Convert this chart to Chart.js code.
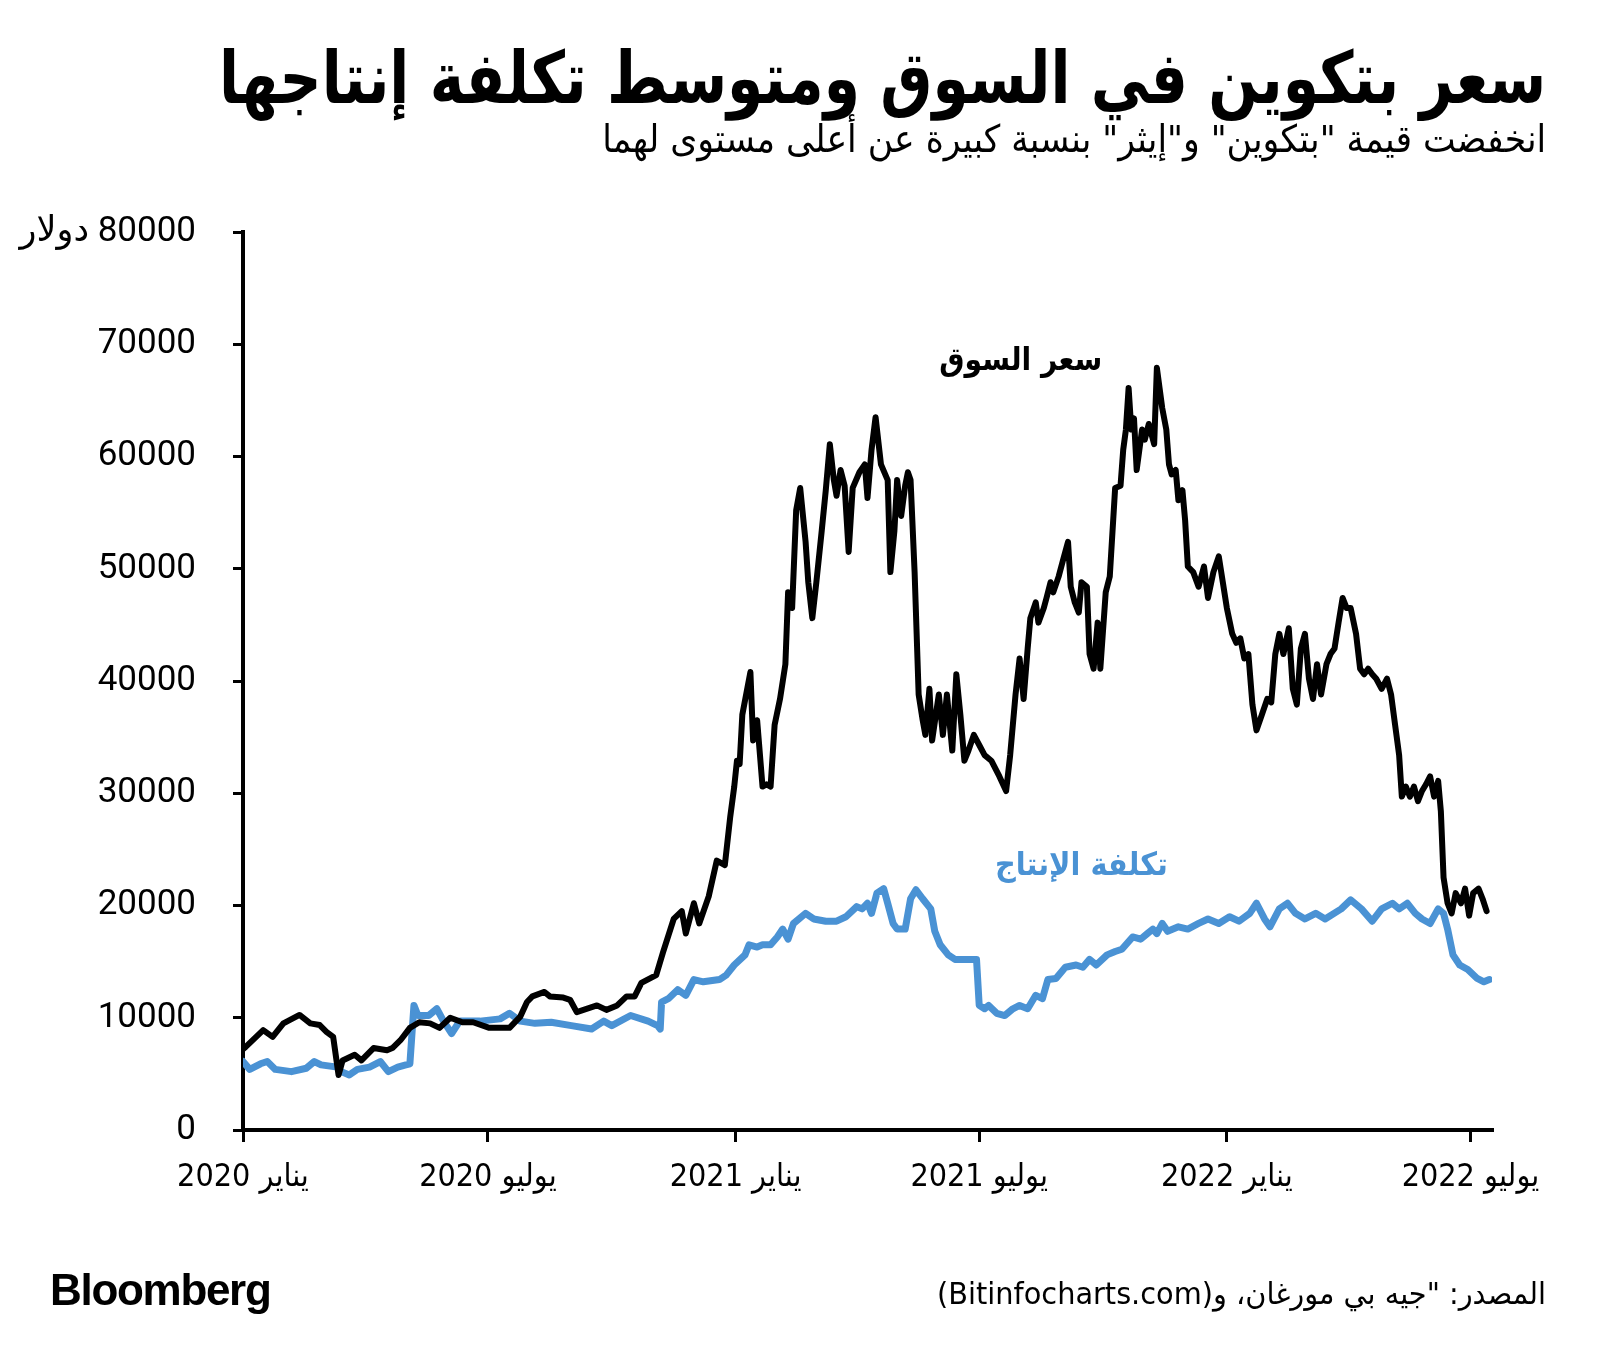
<!DOCTYPE html>
<html lang="ar">
<head>
<meta charset="utf-8">
<script src="https://cdn.jsdelivr.net/npm/chart.js@4.4.1/dist/chart.umd.min.js"></script>
<style>
  html, body { margin: 0; padding: 0; background: #fff; }
  #wrap { position: relative; width: 1600px; height: 1371px; overflow: hidden; }
  #chart { position: absolute; left: 0; top: 0; direction: ltr; }
  .txt { position: absolute; white-space: nowrap; direction: rtl; line-height: 1; transform-origin: right top; }
  #title { right: 54px; top: 36px; font: bold 72px "DejaVu Sans Condensed", "DejaVu Sans"; color: #000; }
  #subtitle { right: 54px; top: 117px; font: 38px "DejaVu Sans Condensed", "DejaVu Sans"; color: #000; }
  #source { right: 54px; top: 1276px; font: 30px "DejaVu Sans Condensed", "DejaVu Sans"; color: #000; }
  #logo { position: absolute; left: 50px; top: 1268px; font: bold 44px "Liberation Sans", Arial; letter-spacing: -1.3px; line-height: 1; color: #000; }
  #lblPrice { right: 498px; top: 340px; font: bold 32px "DejaVu Sans Condensed", "DejaVu Sans"; color: #000; }
  #lblCost { right: 432px; top: 845px; font: bold 32px "DejaVu Sans Condensed", "DejaVu Sans"; color: #4a92d4; }
</style>
</head>
<body>
<div id="wrap">
  <canvas id="chart" width="1600" height="1371"></canvas>
  <div class="txt" id="title" data-w="1327">سعر بتكوين في السوق ومتوسط تكلفة إنتاجها</div>
  <div class="txt" id="subtitle" data-w="944">انخفضت قيمة "بتكوين" و"إيثر" بنسبة كبيرة عن أعلى مستوى لهما</div>
  <div class="txt" id="lblPrice" data-w="163">سعر السوق</div>
  <div class="txt" id="lblCost" data-w="173">تكلفة الإنتاج</div>
  <div class="txt" id="source" data-w="609">المصدر: "جيه بي مورغان، و(Bitinfocharts.com)</div>
  <div id="logo">Bloomberg</div>
</div>
<script>
// days counted from 1 Jan 2020
const tickDays = [0, 182, 366, 547, 731, 912];
const tickLabels = ["يناير 2020", "يوليو 2020", "يناير 2021", "يوليو 2021", "يناير 2022", "يوليو 2022"];

// market price (USD)
const priceDays = [0, 2, 15, 22, 30, 42, 50, 57, 62, 67, 71, 74, 83, 88, 97, 107, 111, 117, 124, 131,
  139, 146, 154, 163, 171, 183, 198, 206, 211, 215, 224, 228, 238, 243, 248, 258, 263, 270, 278, 285,
  291, 296, 307, 312, 320, 326, 329, 335, 339, 346, 352, 358, 362, 365, 367, 369, 371, 377, 379, 382,
  386, 389, 392, 395, 399, 403, 405, 408, 411, 414, 418, 420, 423, 426, 430, 433, 436, 439, 441, 444,
  447, 450, 453, 458, 462, 464, 467, 470, 474, 479, 481, 484, 486, 489, 492, 494, 496, 499, 502, 505,
  507, 510, 512, 517, 520, 523, 527, 530, 533, 536, 539, 543, 547, 551, 556, 562, 567, 570, 574, 577,
  580, 583, 585, 589, 591, 595, 597, 600, 602, 606, 610, 613, 615, 618, 621, 623, 627, 629, 632, 635,
  637, 641, 644, 648, 652, 654, 656, 658, 660, 662, 664, 668, 670, 673, 677, 679, 683, 686, 688, 690,
  693, 695, 698, 700, 702, 706, 710, 714, 717, 721, 725, 728, 731, 735, 738, 741, 744, 747, 750, 753,
  757, 761, 764, 767, 770, 773, 777, 780, 783, 786, 789, 792, 795, 798, 801, 805, 808, 811, 814, 817,
  820, 823, 827, 830, 833, 836, 839, 842, 846, 850, 853, 856, 859, 861, 864, 867, 870, 873, 876, 879,
  882, 885, 888, 890, 892, 895, 898, 901, 905, 908, 911, 914, 918, 921, 924];
const priceValues = [7200, 7400, 8900, 8300, 9500, 10250, 9500, 9350, 8750, 8300, 4900, 6200, 6700, 6200, 7300, 7100, 7300, 8000, 9100, 9600,
  9500, 9100, 10000, 9600, 9600, 9100, 9100, 10100, 11400, 11900, 12300, 11900, 11800, 11600, 10500, 10900, 11100, 10700, 11100, 11900,
  11900, 13100, 13800, 15800, 18800, 19500, 17500, 20200, 18400, 20800, 24000, 23600, 27900, 30600, 32900, 32600, 37000, 40800, 34700, 36500,
  30600, 30800, 30600, 36100, 38400, 41500, 47900, 46500, 55200, 57200, 52400, 48800, 45600, 48800, 53400, 57000, 61100, 57900, 56500, 58800,
  57400, 51500, 57200, 58600, 59300, 56300, 60600, 63500, 59300, 57900, 49700, 53400, 57900, 54700, 57400, 58600, 57900, 49700, 38800, 36500,
  35200, 39300, 34700, 38800, 35200, 38800, 33800, 40600, 37000, 32900, 33800, 35200, 34300, 33400, 32900, 31500, 30200, 33400, 38800, 42000,
  38400, 42900, 45600, 47000, 45200, 46500, 47400, 48800, 47900, 49300, 51100, 52400, 48400, 47000, 46100, 48800, 48400, 42400, 41100, 45200,
  41100, 47900, 49300, 57200, 57400, 60600, 62400, 66100, 62400, 63400, 58800, 62400, 61500, 62900, 61100, 67900, 64300, 62400, 59300, 58400,
  58800, 56100, 57000, 54300, 50200, 49700, 48400, 50200, 47400, 49700, 51100, 48800, 46500, 44200, 43400, 43800, 42000, 42400, 37900, 35600,
  37000, 38400, 38100, 42400, 44200, 42400, 44700, 39300, 37900, 42900, 44200, 40200, 38400, 41500, 38800, 41500, 42400, 42900, 45200, 47400,
  46500, 46500, 44200, 41100, 40600, 41100, 40600, 40200, 39300, 40200, 38800, 36100, 33400, 29700, 30600, 29700, 30600, 29300, 30200, 30800,
  31500, 29700, 31100, 28400, 22500, 20200, 19300, 21100, 20200, 21500, 19100, 21100, 21500, 20600, 19500];

// average production cost (USD)
const costDays = [0, 5, 13, 18, 24, 36, 47, 53, 58, 70, 73, 79, 85, 94, 102, 108, 115, 121, 124, 127,
  130, 138, 144, 149, 155, 161, 176, 191, 198, 206, 217, 229, 244, 259, 268, 274, 288, 301, 308, 310,
  311, 316, 323, 329, 335, 342, 354, 359, 365, 373, 376, 382, 386, 392, 397, 401, 405, 409, 418, 424,
  433, 441, 448, 456, 460, 464, 467, 471, 476, 479, 483, 486, 492, 496, 500, 505, 511, 514, 518, 524,
  529, 536, 545, 547, 551, 554, 560, 566, 572, 577, 583, 589, 594, 598, 604, 611, 619, 624, 629, 634,
  642, 648, 653, 661, 667, 672, 676, 679, 683, 687, 695, 702, 710, 717, 725, 733, 740, 748, 753, 759,
  763, 770, 776, 782, 789, 797, 804, 816, 823, 831, 839, 846, 854, 859, 865, 871, 876, 882, 888, 892,
  895, 899, 904, 910, 917, 922, 926];
const costValues = [6100, 5400, 5900, 6100, 5400, 5200, 5500, 6100, 5800, 5600, 5200, 4900, 5400, 5600, 6100, 5200, 5600, 5800, 5900, 11100,
  10200, 10200, 10800, 9700, 8600, 9700, 9700, 9900, 10400, 9700, 9500, 9600, 9300, 9000, 9700, 9300, 10200, 9700, 9300, 9000,
  11400, 11700, 12500, 12000, 13400, 13200, 13400, 13800, 14700, 15600, 16500, 16300, 16500, 16500, 17200, 17900, 17000, 18400, 19300, 18800,
  18600, 18600, 19000, 19900, 19700, 20200, 19300, 21100, 21500, 20200, 18400, 17900, 17900, 20600, 21400, 20600, 19700, 17700, 16500, 15600,
  15200, 15200, 15200, 11100, 10800, 11100, 10400, 10200, 10800, 11100, 10800, 12000, 11700, 13400, 13500, 14500, 14700, 14500, 15200, 14700,
  15600, 15900, 16100, 17200, 17000, 17500, 17900, 17500, 18400, 17700, 18100, 17900, 18400, 18800, 18400, 19000, 18600, 19300, 20200, 18800,
  18100, 19700, 20200, 19300, 18800, 19300, 18800, 19700, 20500, 19700, 18600, 19700, 20200, 19700, 20200, 19300, 18800, 18400, 19700, 19300,
  17900, 15600, 14700, 14300, 13500, 13200, 13400];

const toPoints = (days, vals) => days.map((d, i) => ({ x: d, y: vals[i] }));

// squeeze the arabic headings to the width they take in the original
document.querySelectorAll(".txt[data-w]").forEach((el) => {
  const w = el.getBoundingClientRect().width;
  el.style.transform = "scaleX(" + (Number(el.dataset.w) / w) + ")";
});

const ctx = document.getElementById("chart").getContext("2d");

new Chart(ctx, {
  type: "line",
  data: {
    datasets: [
      {
        label: "سعر السوق",
        data: toPoints(priceDays, priceValues),
        borderColor: "#000000",
        borderWidth: 6,
        pointRadius: 0,
        tension: 0,
        borderJoinStyle: "round",
        borderCapStyle: "round",
      },
      {
        label: "تكلفة الإنتاج",
        data: toPoints(costDays, costValues),
        borderColor: "#4a92d4",
        borderWidth: 7,
        pointRadius: 0,
        tension: 0,
        borderJoinStyle: "round",
        borderCapStyle: "round",
      },
    ],
  },
  options: {
    responsive: false,
    animation: false,
    layout: { padding: { left: 0, top: 232, right: 108, bottom: 141 } },
    plugins: { legend: { display: false }, tooltip: { enabled: false } },
    scales: {
      x: {
        type: "linear",
        min: 0,
        max: 928,
        afterFit: (scale) => { scale.height = 100; },
        afterBuildTicks: (scale) => { scale.ticks = tickDays.map((v) => ({ value: v })); },
        border: { color: "#000", width: 4 },
        grid: { drawOnChartArea: false, color: "#000", lineWidth: 3, tickLength: 12 },
        ticks: {
          color: "#000",
          padding: 16,
          maxRotation: 0,
          font: { family: '"DejaVu Sans Condensed", "DejaVu Sans"', size: 32 },
          callback: (v) => tickLabels[tickDays.indexOf(v)],
        },
      },
      y: {
        min: 0,
        max: 80000,
        afterFit: (scale) => { scale.width = 243; },
        border: { color: "#000", width: 4 },
        grid: { drawOnChartArea: false, color: "#000", lineWidth: 3, tickLength: 10 },
        ticks: {
          stepSize: 10000,
          color: "#000",
          padding: 37,
          font: { family: 'Roboto, "DejaVu Sans"', size: 35 },
          callback: (v) => (v === 80000 ? "\u200F80000 دولار" : String(v)),
        },
      },
    },
  },
});
</script>
</body>
</html>
